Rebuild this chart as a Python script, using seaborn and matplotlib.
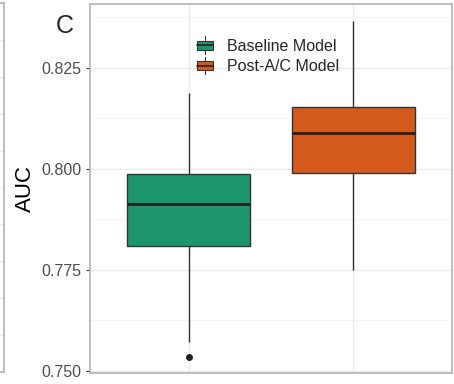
import matplotlib
matplotlib.use("Agg")
import matplotlib.pyplot as plt
import seaborn as sns
import pandas as pd
from matplotlib.legend_handler import HandlerBase
from matplotlib.patches import Rectangle, Patch
from matplotlib.lines import Line2D
from matplotlib.ticker import MultipleLocator

# ---- data ----
models = ["Baseline Model", "Post-A/C Model"]
baseline_auc = [0.7535, 0.7572, 0.7809, 0.7870, 0.7914, 0.7950, 0.7988, 0.8080, 0.8188]
post_auc = [0.7750, 0.7900, 0.7989, 0.8040, 0.8090, 0.8120, 0.8152, 0.8250, 0.8366]
colors = ["#1D956F", "#D4591D"]
yticks = [0.750, 0.775, 0.800, 0.825]
ytick_labels = ["0.750", "0.775", "0.800", "0.825"]

df = pd.DataFrame({
    "model": [models[0]] * len(baseline_auc) + [models[1]] * len(post_auc),
    "auc": baseline_auc + post_auc,
})

sns.set_style("white")
plt.rcParams["font.family"] = ["Liberation Sans", "DejaVu Sans"]

W, H = 454, 384
fig = plt.figure(figsize=(W / 100, H / 100), dpi=100)

def fx(px):
    return px / W

def fy(py):
    return 1 - py / H

# neighbouring panel fragment at the far left
axn = fig.add_axes([-0.2, fy(372), 0.2 + fx(4), fy(3) - fy(372)])
axn.set_xlim(0, 1)
axn.set_ylim(0, 10)
axn.yaxis.set_major_locator(MultipleLocator(1))
axn.grid(True, axis="y", color="#EBEBEB", linewidth=0.8)
axn.set_xticks([])
axn.tick_params(left=False, labelleft=False)
for s in axn.spines.values():
    s.set_color("#B3B3B3")
    s.set_linewidth(1.2)

# main panel
ax = fig.add_axes([fx(90), fy(373), fx(452) - fx(90), fy(4) - fy(373)])
ax.set_axisbelow(True)

sns.boxplot(
    data=df, x="model", y="auc", hue="model", palette=colors,
    width=0.75, saturation=1, linecolor="#333333", linewidth=1.0,
    showcaps=False, legend=False, ax=ax,
    medianprops=dict(linewidth=2.0, color="#222222"),
    flierprops=dict(marker="o", markersize=4, markerfacecolor="#222222",
                    markeredgecolor="#222222"),
)

ax.set_xlim(-0.6, 1.6)
ax.set_ylim(0.7495, 0.8408)
ax.set_yticks(yticks)
ax.set_yticklabels(ytick_labels)
ax.yaxis.set_minor_locator(MultipleLocator(0.0125))
ax.set_xticks([0, 1])
ax.set_xticklabels([])
ax.tick_params(axis="x", length=0)
ax.tick_params(axis="y", which="major", length=3, width=0.8, color="#333333",
               pad=3, labelsize=11.5, labelcolor="#4D4D4D", left=True)
ax.tick_params(axis="y", which="minor", length=0)
ax.grid(True, which="major", color="#EBEBEB", linewidth=1.0)
ax.grid(True, which="minor", axis="y", color="#F3F3F3", linewidth=0.6)
for s in ax.spines.values():
    s.set_color("#B3B3B3")
    s.set_linewidth(1.2)
ax.set_xlabel("")
ax.set_ylabel("AUC", fontsize=16, color="black")
ax.yaxis.set_label_coords((25.5 - 90) / 362, 0.5)
ax.yaxis.label.set_va("center")

# panel letter
fig.text(fx(56), fy(33), "C", fontsize=18, va="baseline", ha="left")


class BoxHandler(HandlerBase):
    def create_artists(self, legend, orig_handle, xdescent, ydescent,
                       width, height, fontsize, trans):
        x0, y0 = -xdescent, -ydescent
        cx = x0 + width / 2
        cy = y0 + height / 2
        bh = height * 0.62
        whisk = Line2D([cx, cx], [cy - height * 0.62, cy + height * 0.62],
                       color="#333333", linewidth=0.8, transform=trans)
        rect = Rectangle((x0, cy - bh / 2), width, bh,
                         facecolor=orig_handle.get_facecolor(),
                         edgecolor="#333333", linewidth=0.8, transform=trans)
        med = Line2D([x0, x0 + width], [cy, cy], color="#222222",
                     linewidth=1.2, transform=trans)
        return [whisk, rect, med]


handles = [Patch(facecolor=c, edgecolor="#333333") for c in colors]
ax.legend(handles, models, handler_map={Patch: BoxHandler()},
          loc="upper left", bbox_to_anchor=(fx(197), fy(38)),
          bbox_transform=fig.transFigure, frameon=False, borderpad=0,
          borderaxespad=0, fontsize=11.5, handlelength=1.0, handleheight=1.0,
          handletextpad=0.85, labelspacing=0.3)

fig.savefig("out.png", dpi=100)
